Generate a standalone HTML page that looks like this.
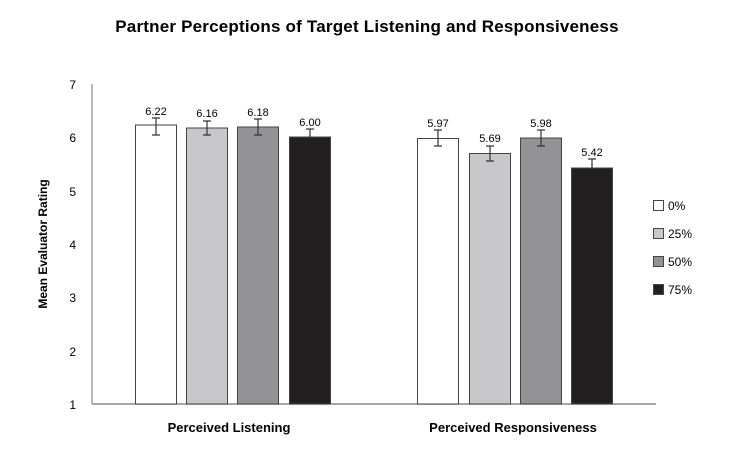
<!DOCTYPE html>
<html><head><meta charset="utf-8"><style>
body{margin:0;background:#fff}
svg text{font-family:"Liberation Sans",sans-serif}
</style></head><body>
<svg width="740" height="453" viewBox="0 0 740 453">
<text x="367" y="32" text-anchor="middle" font-size="17" font-weight="bold" letter-spacing="0.2">Partner Perceptions of Target Listening and Responsiveness</text>
<g font-size="12" text-anchor="end">
<text x="76" y="89">7</text><text x="76" y="142">6</text><text x="76" y="196">5</text>
<text x="76" y="249">4</text><text x="76" y="302">3</text><text x="76" y="356">2</text><text x="76" y="409">1</text>
</g>
<text transform="translate(47,244) rotate(-90)" text-anchor="middle" font-size="12" font-weight="600">Mean Evaluator Rating</text>
<line x1="92" y1="84" x2="92" y2="404" stroke="#888" stroke-width="1.2"/>
<line x1="92" y1="404" x2="656" y2="404" stroke="#888" stroke-width="1.5"/>
<g stroke="#444" stroke-width="1">
<rect x="135.5" y="125" width="41" height="279" fill="#fff"/>
<rect x="186.5" y="128" width="41" height="276" fill="#c8c8ca"/>
<rect x="237.5" y="127" width="41" height="277" fill="#939395"/>
<rect x="289.5" y="137" width="41" height="267" fill="#231f20"/>
<rect x="417.5" y="138.5" width="41" height="265.5" fill="#fff"/>
<rect x="469.5" y="153.5" width="41" height="250.5" fill="#c8c8ca"/>
<rect x="520.5" y="138" width="41" height="266" fill="#939395"/>
<rect x="571.5" y="168" width="41" height="236" fill="#231f20"/>
</g>
<g stroke="#333" stroke-width="1.2" fill="none">
<path d="M156 118v17M152 118h8M152 135h8"/>
<path d="M207 121v14M203 121h8M203 135h8"/>
<path d="M258 119v16M254 119h8M254 135h8"/>
<path d="M310 129v10M306 129h8"/>
<path d="M438 130v16M434 130h8M434 146h8"/>
<path d="M490 146v15M486 146h8M486 161h8"/>
<path d="M541 130v16M537 130h8M537 146h8"/>
<path d="M592 159v10M588 159h8"/>
</g>
<g font-size="11" text-anchor="middle">
<text x="156" y="115">6.22</text><text x="207" y="117">6.16</text><text x="258" y="116">6.18</text><text x="310" y="126">6.00</text>
<text x="438" y="127">5.97</text><text x="490" y="142">5.69</text><text x="541" y="127">5.98</text><text x="592" y="156">5.42</text>
</g>
<g font-size="13" font-weight="bold" text-anchor="middle">
<text x="229" y="432">Perceived Listening</text>
<text x="513" y="432">Perceived Responsiveness</text>
</g>
<g stroke="#444" stroke-width="1">
<rect x="653.5" y="200.5" width="10" height="10" fill="#fff"/>
<rect x="653.5" y="228.5" width="10" height="10" fill="#c8c8ca"/>
<rect x="653.5" y="256.5" width="10" height="10" fill="#939395"/>
<rect x="653.5" y="284.5" width="10" height="10" fill="#231f20"/>
</g>
<g font-size="12">
<text x="668" y="210">0%</text><text x="668" y="238">25%</text><text x="668" y="266">50%</text><text x="668" y="294">75%</text>
</g>
</svg>
</body></html>
